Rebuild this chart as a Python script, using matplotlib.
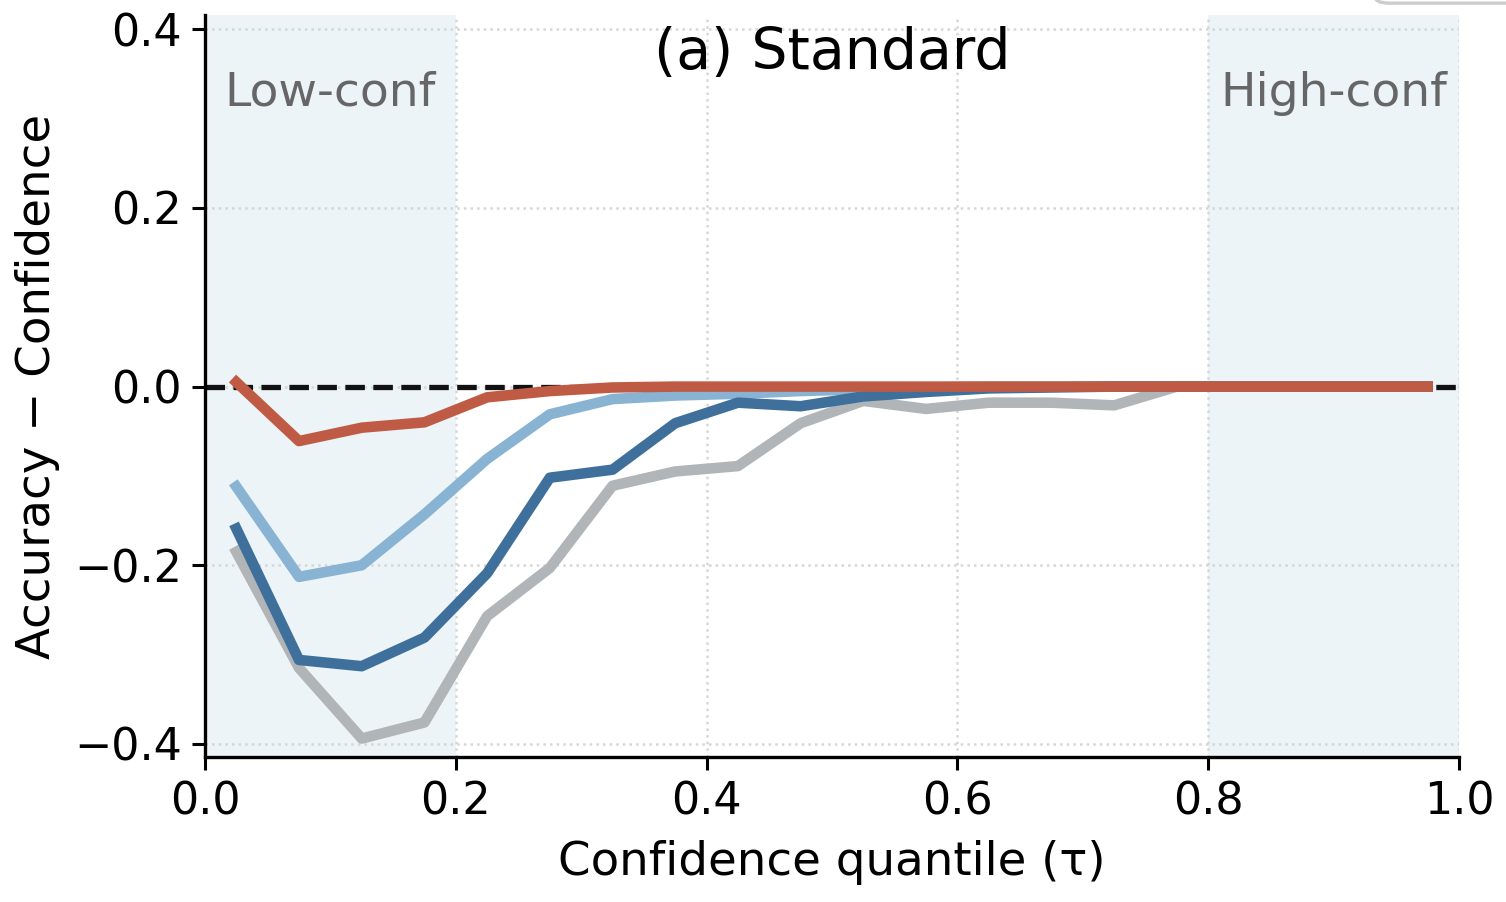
import numpy as np
import matplotlib
matplotlib.use("Agg")
import matplotlib.pyplot as plt
from matplotlib.patches import FancyBboxPatch

# bin centres of the confidence quantiles
tau = np.arange(0.025, 1.0, 0.05)

# accuracy - confidence per method
gray_vals = [-0.185, -0.315, -0.394, -0.376, -0.257, -0.203, -0.111, -0.095, -0.089, -0.041,
             -0.016, -0.025, -0.018, -0.018, -0.021, 0.0, 0.0, 0.0, 0.0, 0.0]
dark_vals = [-0.159, -0.306, -0.313, -0.281, -0.209, -0.102, -0.093, -0.041, -0.018, -0.022,
             -0.011, -0.006, -0.002, -0.001, 0.0, 0.0, 0.0, 0.0, 0.0, 0.0]
light_vals = [-0.112, -0.213, -0.200, -0.143, -0.081, -0.031, -0.014, -0.010, -0.008, -0.005,
              -0.003, -0.001, 0.0, 0.0, 0.0, 0.0, 0.0, 0.0, 0.0, 0.0]
red_vals = [0.005, -0.061, -0.046, -0.040, -0.012, -0.005, -0.001, 0.0, 0.0, 0.0,
            0.0, 0.0, 0.0, 0.0, 0.0, 0.0, 0.0, 0.0, 0.0, 0.0]

xticks = [0.0, 0.2, 0.4, 0.6, 0.8, 1.0]
yticks = [-0.4, -0.2, 0.0, 0.2, 0.4]

fig = plt.figure(figsize=(7.53, 4.51), dpi=200)
ax = fig.add_axes([0.1361, 0.1604, 0.9688 - 0.1361, 0.9834 - 0.1604])
ax.set_axisbelow(True)

# low / high confidence regions
ax.axvspan(0.0, 0.2, color='#ecf4f8', zorder=0, lw=0)
ax.axvspan(0.8, 1.0, color='#ecf4f8', zorder=0, lw=0)

ax.grid(True, linestyle=':', color='#d6d6d6', lw=0.9)
ax.axhline(0, color='#111111', ls='--', lw=1.9, zorder=1.5)

lw = 3.8
ax.plot(tau, light_vals, color='#89b3d3', lw=lw, zorder=2)
ax.plot(tau, gray_vals, color='#b1b5b8', lw=lw, zorder=2.1)
ax.plot(tau, dark_vals, color='#3f6f9b', lw=lw, zorder=2.2)
ax.plot(tau, red_vals, color='#bf5b45', lw=lw, zorder=2.3)

ax.set_xlim(0, 1)
ax.set_ylim(-0.415, 0.416)
ax.set_xticks(xticks)
ax.set_yticks(yticks)
ax.set_xticklabels([f'{v:.1f}' for v in xticks])
ax.set_yticklabels([f'{v:.1f}'.replace('-', '\u2212') for v in yticks])
ax.tick_params(labelsize=16, length=4.7, width=1.1)
for s in ['top', 'right']:
    ax.spines[s].set_visible(False)
for s in ['left', 'bottom']:
    ax.spines[s].set_linewidth(1.2)

ax.set_xlabel('Confidence quantile (\u03c4)', fontsize=16.8, labelpad=6)
ax.set_ylabel('Accuracy \u2212 Confidence', fontsize=16.8, labelpad=5)

ax.text(0.5, 0.985, '(a) Standard', transform=ax.transAxes, ha='center', va='top', fontsize=20.5)
ax.text(0.1, 0.925, 'Low-conf', transform=ax.get_xaxis_transform(), ha='center', va='top',
        fontsize=17, color='#666666')
ax.text(0.9, 0.925, 'High-conf', transform=ax.get_xaxis_transform(), ha='center', va='top',
        fontsize=17, color='#666666')

# bottom edge of a legend frame that sits above the figure edge
frame = FancyBboxPatch((1374 / 1506, 0.9965), 0.2, 0.05, boxstyle='round,pad=0,rounding_size=0.01',
                       transform=fig.transFigure, facecolor='white', edgecolor='#cccccc', lw=1.2,
                       clip_on=False)
fig.patches.append(frame)

fig.savefig('out.png', dpi=200)
